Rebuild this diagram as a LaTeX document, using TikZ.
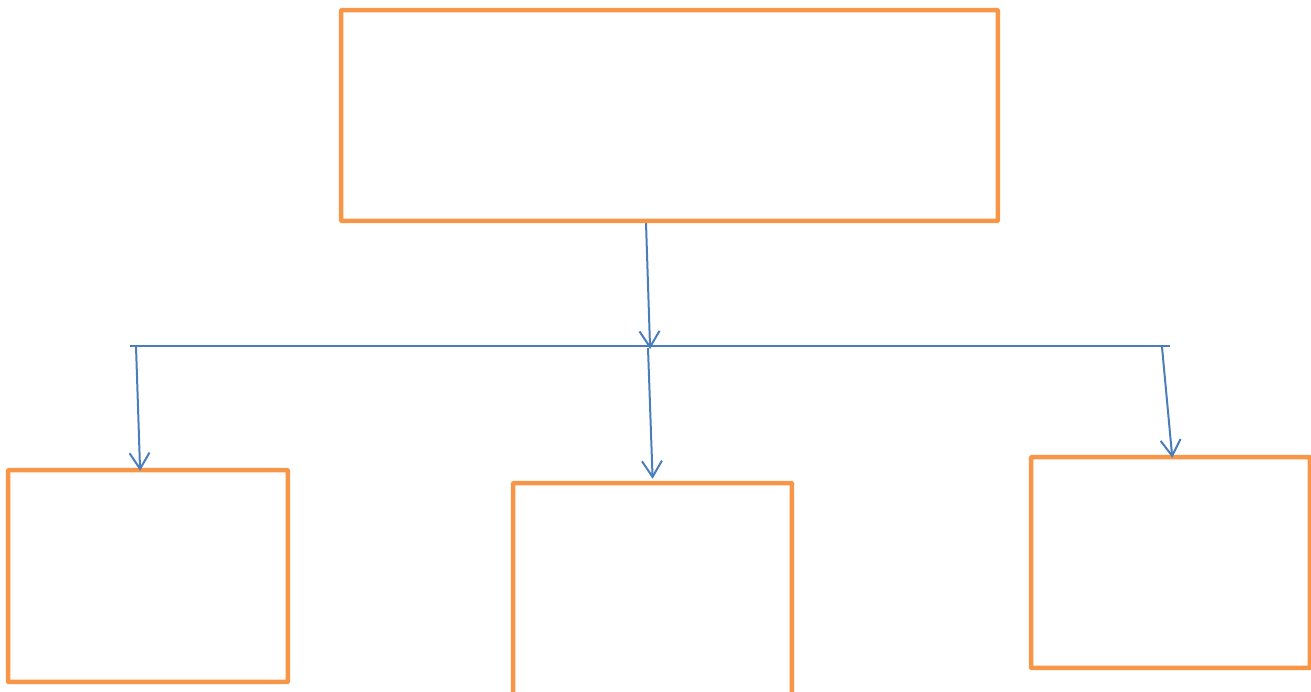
\documentclass[tikz,border=0pt]{standalone}
\usepackage{xcolor}
\usetikzlibrary{arrows.meta}
\definecolor{boxorange}{HTML}{F79646}
\definecolor{linkblue}{HTML}{4A7EBB}

\begin{document}
\begin{tikzpicture}[x=0.02cm,y=-0.02cm,
    box/.style={draw=boxorange,line width=0.09cm,inner sep=0pt,rounded corners=0.5pt},
    link/.style={draw=linkblue,line width=0.04cm},
    tip/.style={link,shorten >=-0.06cm,-{Straight Barb[length=0.32cm,width=0.4cm]}}]
          %page frame
          \clip (0,0) rectangle (1311,691);

          %boxes
          \node[box,minimum width=13.14cm,minimum height=4.22cm] (top) at (669.5,115.5) {};
          \node[box,minimum width=5.6cm,minimum height=4.24cm] (left) at (148,576) {};
          \node[box,minimum width=5.58cm,minimum height=4.34cm] (mid) at (652.5,591.5) {};
          \node[box,minimum width=5.58cm,minimum height=4.22cm] (right) at (1170.5,562.5) {};

          %bar
          \coordinate (barl) at (130,346);
          \coordinate (barr) at (1170,346);
          \coordinate (hub) at (650,346);
          \draw[link] (barl) -- (barr);

          %arrows
          \draw[tip] ([xshift=-0.47cm]top.south) -- (hub);
          \draw[tip] (136,346) -- ([xshift=-0.16cm]left.north);
          \draw[tip] (648,348) -- ([yshift=0.1cm]mid.north);
          \draw[tip] (1162,347) -- ([xshift=0.03cm]right.north);
          \end{tikzpicture}
\end{document}
